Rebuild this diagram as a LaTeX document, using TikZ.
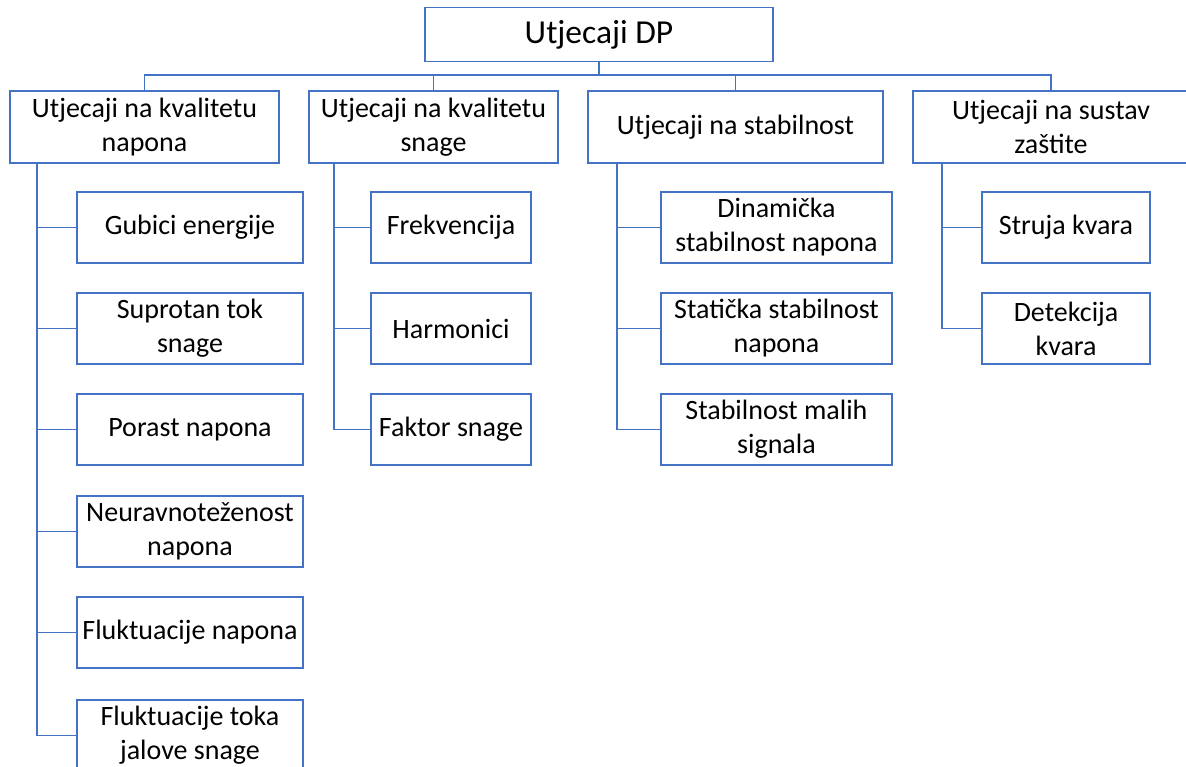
\documentclass[tikz,border=0pt]{standalone}
\usepackage{fontspec}
\setmainfont{Carlito}
\definecolor{officeblue}{HTML}{4472C4}
\begin{document}
\begin{tikzpicture}[x=1pt,y=-1pt,
  box/.style={draw=officeblue,line width=1.2pt,fill=white,inner sep=0pt,align=center,
    font=\fontsize{28}{34}\selectfont,text=black},
  rootbox/.style={box,font=\fontsize{33.5}{40}\selectfont},
  link/.style={draw=officeblue,line width=1.2pt}]
\useasboundingbox (0,0) rectangle (1186,767);
% root
\node[rootbox,minimum width=348pt,minimum height=54pt] (root) at (599,34.5) {Utjecaji DP};
% level 1
\node[box,minimum width=269pt,minimum height=72pt] (A) at (144.5,127) {Utjecaji na kvalitetu\\napona};
\node[box,minimum width=249pt,minimum height=72pt] (B) at (433.5,127) {Utjecaji na kvalitetu\\snage};
\node[box,minimum width=295pt,minimum height=72pt] (C) at (735.5,127) {Utjecaji na stabilnost};
\node[box,minimum width=276pt,minimum height=72pt] (D) at (1051,127) {Utjecaji na sustav\\zaštite};
% A children
\foreach \n/\y/\t in {a1/227.5/{Gubici energije},a2/328.5/{Suprotan tok\\snage},a3/429.5/{Porast napona},a4/531.5/{Neuravnoteženost\\napona},a5/632.5/{Fluktuacije napona},a6/735.5/{Fluktuacije toka\\jalove snage}}
  \node[box,minimum width=226pt,minimum height=71pt] (\n) at (190,\y) {\t};
% B children
\foreach \n/\y/\t in {b1/227.5/{Frekvencija},b2/328.5/{Harmonici},b3/429.5/{Faktor snage}}
  \node[box,minimum width=160pt,minimum height=71pt] (\n) at (451,\y) {\t};
% C children
\foreach \n/\y/\t in {c1/227.5/{Dinamička\\stabilnost napona},c2/328.5/{Statička stabilnost\\napona},c3/429.5/{Stabilnost malih\\signala}}
  \node[box,minimum width=231pt,minimum height=71pt] (\n) at (776.5,\y) {\t};
% D children
\foreach \n/\y/\t in {d1/227.5/{Struja kvara},d2/328.5/{Detekcija\\kvara}}
  \node[box,minimum width=168pt,minimum height=71pt] (\n) at (1066,\y) {\t};
% bus
\coordinate (bus) at (0,75);
\draw[link] (root.south) -- (root.south |- bus);
\draw[link] (A.north) |- (bus -| D.north) -- (D.north);
\draw[link] (B.north) -- (B.north |- bus);
\draw[link] (C.north) -- (C.north |- bus);
% stems
\coordinate (sA) at (37,163);
\coordinate (sB) at (334,163);
\coordinate (sC) at (617,163);
\coordinate (sD) at (942,163);
\foreach \c in {a1,a2,a3,a4,a5,a6} \draw[link] (sA) |- (\c.west);
\foreach \c in {b1,b2,b3} \draw[link] (sB) |- (\c.west);
\foreach \c in {c1,c2,c3} \draw[link] (sC) |- (\c.west);
\foreach \c in {d1,d2} \draw[link] (sD) |- (\c.west);
\end{tikzpicture}
\end{document}
